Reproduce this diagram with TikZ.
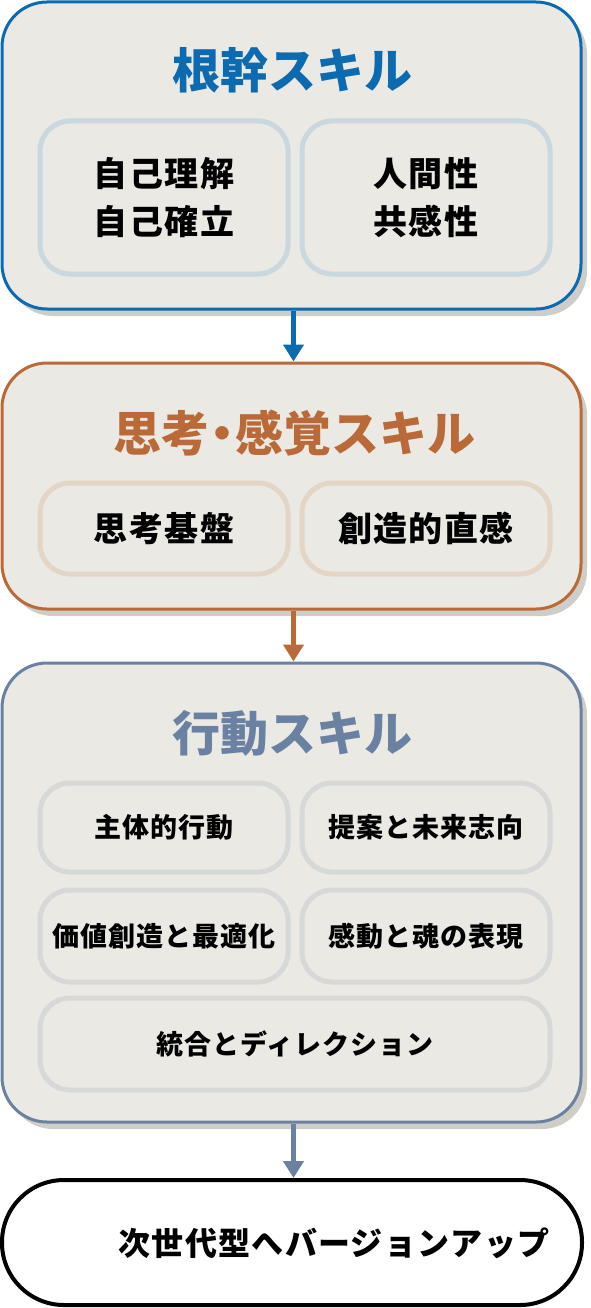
\documentclass[tikz,border=0pt]{standalone}
\usepackage{fontspec}
\setmainfont{Noto Sans CJK JP}
\usetikzlibrary{arrows.meta,shadows}
\definecolor{rootblue}{HTML}{0B6AB0}
\definecolor{thinkorange}{HTML}{B96A38}
\definecolor{actslate}{HTML}{6B81A1}
\definecolor{panelfill}{HTML}{EBE9E4}
\definecolor{panelshadow}{HTML}{CFCDC8}
\definecolor{rootinner}{HTML}{C9D7DE}
\definecolor{thinkinner}{HTML}{E4D6C7}
\definecolor{actinner}{HTML}{D7D9D9}
\newcommand{\titlefont}{\bfseries\fontsize{48pt}{52pt}\selectfont}
\newcommand{\itemfont}{\bfseries\fontsize{34pt}{48pt}\selectfont\addfontfeature{LetterSpace=4}}
\newcommand{\smallitemfont}{\bfseries\fontsize{27pt}{32pt}\selectfont\addfontfeature{LetterSpace=4}}

\begin{document}
\begin{tikzpicture}[x=1pt, y=-1pt,
		panel/.style={draw, line width=3pt, fill=panelfill, rounded corners=45pt, minimum width=579pt,
			drop shadow={shadow xshift=6pt, shadow yshift=-7pt, fill=panelshadow, opacity=1}},
		item/.style={draw, line width=5pt, fill=panelfill, rounded corners=30pt, minimum width=248pt,
			align=center, font=\itemfont},
		link/.style={line width=5pt, -{Triangle[width=20pt,length=17pt]}}]
	\useasboundingbox (0,0) rectangle (590,1308);
	\node[panel, draw=rootblue, minimum height=307pt] (root) at (291.5,155.5) {};
	\node[text=rootblue, font=\titlefont] (roottitle) at (292,70) {根幹スキル};
	\node[item, draw=rootinner, minimum height=153pt] (self) at (164,197.5) {自己理解\\自己確立};
	\node[item, draw=rootinner, minimum height=153pt] (human) at (426,197.5) {人間性\\共感性};
	\node[panel, draw=thinkorange, minimum height=246pt] (think) at (291.5,486) {};
	\node[text=thinkorange, font=\titlefont] (thinktitle) at (294,433) {思考\kern-11pt・\kern-11pt感覚スキル};
	\node[item, draw=thinkinner, minimum height=91pt] (base) at (164,528.5) {思考基盤};
	\node[item, draw=thinkinner, minimum height=91pt] (intuit) at (426,528.5) {創造的直感};
	\node[panel, draw=actslate, minimum height=459pt] (act) at (291.5,892.5) {};
	\node[text=actslate, font=\titlefont] (acttitle) at (292,733) {行動スキル};
	\node[item, draw=actinner, minimum height=89pt, font=\smallitemfont] (initiative) at (164,827.5) {主体的行動};
	\node[item, draw=actinner, minimum height=89pt, font=\smallitemfont] (propose) at (426,827.5) {提案と未来志向};
	\node[item, draw=actinner, minimum height=92pt, font=\smallitemfont] (value) at (164,936) {価値創造と最適化};
	\node[item, draw=actinner, minimum height=92pt, font=\smallitemfont] (soul) at (426,936) {感動と魂の表現};
	\node[item, draw=actinner, minimum height=92pt, minimum width=510pt, font=\smallitemfont] (direct) at (295,1044) {統合とディレクション};
	\node[draw, line width=4pt, fill=white, rounded corners=62pt, minimum width=580pt, minimum height=125pt] (upgrade) at (292,1242.5) {};
	\node[font=\bfseries\fontsize{32pt}{36pt}\selectfont\addfontfeature{LetterSpace=4}] (upgradetext) at (334,1243) {次世代型へバージョンアップ};
	\draw[link, rootblue] ([xshift=2pt]root.south) -- ([xshift=2pt]think.north);
	\draw[link, thinkorange] ([xshift=2pt]think.south) -- ([xshift=2pt]act.north);
	\draw[link, actslate] ([xshift=2pt]act.south) -- ([xshift=1.5pt]upgrade.north);
\end{tikzpicture}
\end{document}
